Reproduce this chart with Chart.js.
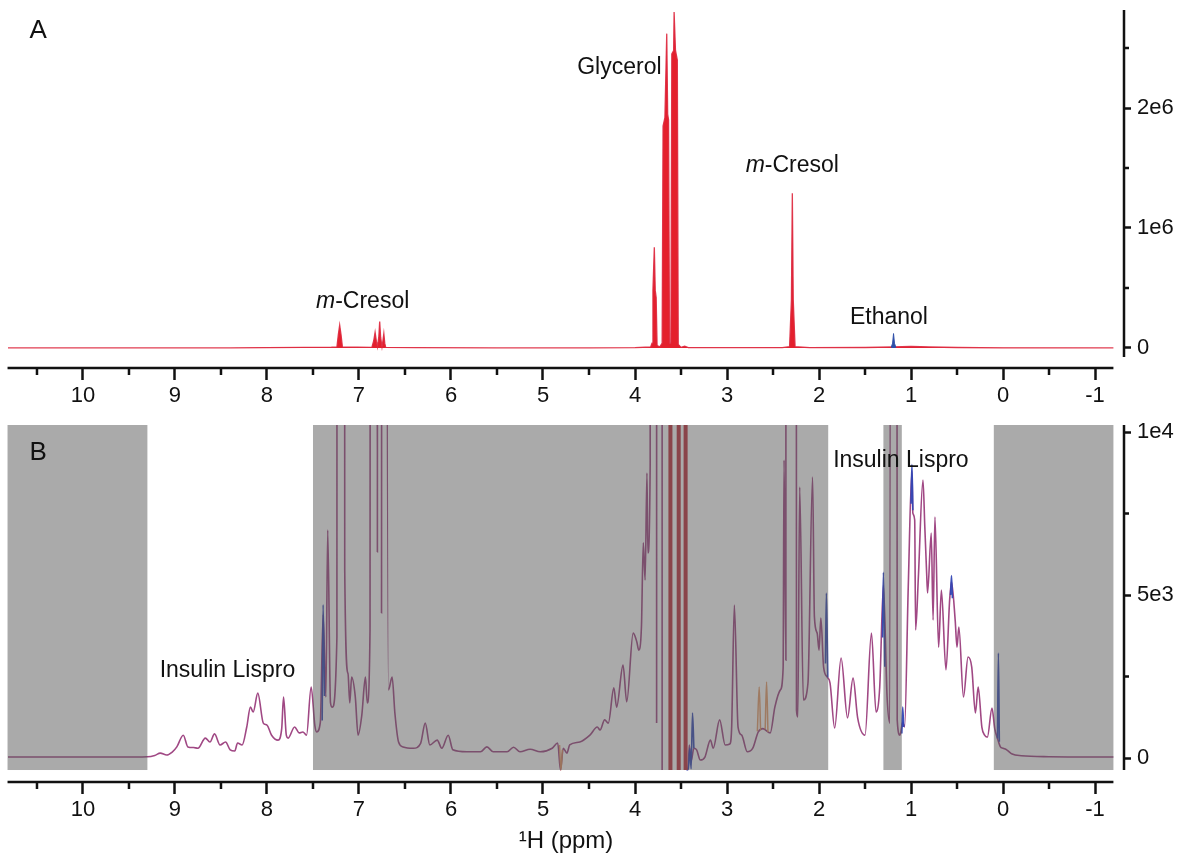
<!DOCTYPE html>
<html>
<head>
<meta charset="utf-8">
<title>1H NMR – insulin lispro</title>
<script src="https://cdn.jsdelivr.net/npm/chart.js@4.4.1/dist/chart.umd.min.js"></script>
<style>
  body { margin: 0; background: #fff; }
  #wrap { position: relative; width: 1182px; height: 861px; }
  #wrap canvas { position: absolute; left: 0; }
</style>
</head>
<body>
<div id="wrap">
  <canvas id="chartA" width="1182" height="412" style="top:0"></canvas>
  <canvas id="chartB" width="1182" height="449" style="top:412px"></canvas>
</div>
<script>
const FONT = "'Liberation Sans', Arial, Helvetica, sans-serif";

// chemical shift axis, high ppm on the left
const ppmStart = 10.82;
const ppmEnd = -1.2;
const ppmTicks = [10, 9, 8, 7, 6, 5, 4, 3, 2, 1, 0, -1];
const ppmMinorTicks = [10.5, 9.5, 8.5, 7.5, 6.5, 5.5, 4.5, 3.5, 2.5, 1.5, 0.5, -0.5];

// intensity axes
const yTicksA = [0, 1e6, 2e6];
const yTickLabelsA = ['0', '1e6', '2e6'];
const yMinorTicksA = [0.5e6, 1.5e6, 2.5e6];
const yTicksB = [0, 5e3, 1e4];
const yTickLabelsB = ['0', '5e3', '1e4'];
const yMinorTicksB = [2.5e3, 7.5e3];

// panel A: full spectrum [ppm, intensity]
const spectrumA = [
  [10.82, 0], [8.4, 0], [8.0, 3000], [7.6, 5000], [7.3, 6000], [7.24, 8000],
  [7.225, 110000], [7.21, 190000], [7.195, 110000], [7.18, 8000],
  [6.86, 5000], [6.84, 60000], [6.825, 130000], [6.81, 50000], [6.8, 10000],
  [6.785, 90000], [6.775, 220000], [6.765, 90000], [6.75, 10000],
  [6.74, 60000], [6.73, 120000], [6.72, 40000], [6.71, 5000],
  [6.4, 2000], [5.5, 0], [4.5, 0], [4.0, 2000], [3.83, 8000],
  [3.815, 40000], [3.805, 480000], [3.79, 840000], [3.78, 480000], [3.77, 420000], [3.76, 20000],
  [3.73, 10000], [3.705, 40000], [3.695, 1850000], [3.675, 1920000], [3.655, 2620000],
  [3.645, 1950000], [3.635, 1900000], [3.625, 40000],
  [3.61, 40000], [3.6, 2450000], [3.58, 2480000], [3.575, 2800000], [3.56, 2480000],
  [3.54, 2400000], [3.53, 30000],
  [3.5, 5000], [3.46, 15000], [3.42, 3000], [3.0, 2000], [2.4, 3000],
  [2.32, 10000], [2.3, 400000], [2.29, 1290000], [2.28, 400000], [2.26, 10000],
  [2.1, 3000], [1.5, 4000], [1.2, 8000], [1.0, 12000], [0.8, 8000], [0.5, 4000],
  [0.0, 1000], [-1.2, 0]
];
const ethanolA = [
  [1.215, 5000], [1.2, 40000], [1.19, 120000], [1.18, 40000], [1.165, 5000]
];

// panel B: zoomed spectrum, overlaid traces
const spectrumB = [
  [10.82, 30], [9.6, 30], [9.3, 40], [9.22, 80], [9.16, 150], [9.09, 90], [9.03, 180],
  [8.98, 340], [8.91, 700], [8.86, 340], [8.8, 320], [8.75, 300], [8.67, 610],
  [8.62, 490], [8.57, 740], [8.51, 400], [8.45, 490], [8.4, 250], [8.35, 215],
  [8.32, 460], [8.27, 400], [8.22, 950], [8.18, 1560], [8.15, 1410], [8.1, 1990],
  [8.04, 1070], [8.0, 1010], [7.95, 700], [7.88, 550], [7.84, 900], [7.82, 1870], [7.79, 700],
  [7.77, 610], [7.7, 950], [7.65, 770], [7.61, 800], [7.57, 700], [7.52, 2180],
  [7.48, 1000], [7.46, 800], [7.42, 1100], [7.39, 4390], [7.36, 1870], [7.34, 6990],
  [7.31, 1700], [7.29, 1560], [7.24, 3710], [7.225, 190000], [7.2, 60000],
  [7.17, 150000], [7.155, 5770], [7.12, 2600], [7.1, 1690], [7.08, 2480],
  [7.04, 1870], [7.01, 700], [6.97, 1300], [6.93, 2480], [6.91, 1690], [6.88, 3930],
  [6.86, 130000], [6.8, 6320], [6.79, 220000], [6.755, 4450], [6.74, 120000],
  [6.705, 30000], [6.68, 2090], [6.64, 2480], [6.61, 1380], [6.57, 490], [6.52, 340],
  [6.41, 300], [6.33, 450], [6.28, 1070], [6.23, 400], [6.15, 550], [6.1, 300],
  [6.03, 700], [5.98, 250], [5.83, 190], [5.68, 190], [5.61, 340], [5.54, 190],
  [5.39, 190], [5.32, 330], [5.25, 190], [5.14, 270], [5.03, 190], [4.9, 300],
  [4.84, 460], [4.81, -370], [4.78, 300], [4.74, 150], [4.71, 400], [4.6, 490],
  [4.49, 700], [4.41, 950], [4.38, 860], [4.33, 1170], [4.29, 1070], [4.23, 2150],
  [4.2, 1560], [4.13, 2850], [4.09, 1720], [4.02, 3830], [3.98, 3560], [3.96, 3310],
  [3.93, 4020], [3.91, 6600], [3.89, 5460], [3.87, 8740], [3.86, 6290], [3.835, 9000],
  [3.825, 800000], [3.775, 400000], [3.765, 1070], [3.755, 600000], [3.715, 2000000],
  [3.705, -370], [3.7, null],
  [3.43, -370], [3.42, -200], [3.41, 400], [3.39, -100], [3.36, 300], [3.33, 250],
  [3.29, -60], [3.24, 30], [3.18, 550], [3.15, 300], [3.08, 1170], [3.02, 400],
  [2.97, 430], [2.95, 900], [2.92, 4690], [2.88, 950], [2.84, 700], [2.78, 190],
  [2.72, 300], [2.66, 800], [2.61, 900], [2.53, 770], [2.48, 1560], [2.42, 2090],
  [2.39, 2760], [2.38, 9140], [2.36, 3000], [2.335, 1000000], [2.27, 300000],
  [2.245, 1470], [2.23, 1260], [2.21, 8310], [2.17, 1780], [2.12, 2300], [2.07, 8620],
  [2.05, 4330], [2.02, 3830], [2.0, 3310], [1.98, 4290], [1.95, 2790], [1.91, 2480],
  [1.88, 2300], [1.83, 920], [1.76, 3070], [1.69, 1230], [1.63, 2450], [1.58, 1230],
  [1.5, 700], [1.43, 3830], [1.38, 1410], [1.34, 2180], [1.3, 5300], [1.26, 1870],
  [1.23, 1070], [1.205, 100000], [1.17, 100000], [1.15, 1170], [1.12, 700], [1.09, 1100],
  [1.07, 950], [1.03, 5250], [0.99, 8800], [0.98, 7510], [0.96, 7300], [0.95, 3930],
  [0.92, 5550], [0.87, 8530], [0.85, 7090], [0.83, 5670], [0.82, 5060], [0.78, 6900],
  [0.76, 4230], [0.74, 7390], [0.7, 3400], [0.67, 5150], [0.62, 2700], [0.58, 4850],
  [0.56, 5400], [0.52, 4230], [0.5, 3400], [0.48, 4020], [0.43, 1870], [0.38, 3100],
  [0.34, 2790], [0.3, 1380], [0.27, 2180], [0.23, 950], [0.2, 700], [0.17, 640],
  [0.12, 1530], [0.09, 900], [0.06, 600], [0.03, 350], [0.0, 300], [-0.04, 250],
  [-0.1, 120], [-0.2, 70], [-0.5, 40], [-1.2, 30]
];
const blueTraceB = [
  [7.4, 1150], [7.39, 4700], [7.375, 1900], [7.37, null],
  [3.44, -370], [3.42, -330], [3.405, 300], [3.39, -330], [3.375, 1380], [3.36, 300], [3.35, null],
  [1.93, 2900], [1.92, 5060], [1.905, 2480], [1.9, null],
  [1.31, 3700], [1.3, 5700], [1.285, 2800], [1.28, null],
  [1.1, 750], [1.09, 1560], [1.08, 950], [1.075, null],
  [1.0, 7800], [0.99, 9000], [0.98, 7600], [0.975, null],
  [0.57, 5000], [0.56, 5600], [0.55, 4900], [0.545, null],
  [0.06, 600], [0.05, 3220], [0.04, 500]
];
const orangeTraceB = [
  [4.82, 400], [4.805, -370], [4.79, 250], [4.785, null],
  [2.67, 820], [2.65, 2180], [2.635, 850], [2.63, null],
  [2.585, 880], [2.57, 2330], [2.555, 800]
];
// glycerol lines that run through the whole panel
const glycerolBandsB = [
  [3.615, -370], [3.615, 40000], [3.6, null],
  [3.525, -370], [3.525, 40000], [3.5, null],
  [3.45, -370], [3.45, 40000]
];
// regions shaded out of the analysis [from ppm, to ppm]
const excludedRegions = [[10.82, 9.3], [7.5, 1.9], [1.3, 1.1], [0.1, -1.2]];

// peak annotations [text, italic prefix, ppm, intensity at text baseline, font size]
const labelsA = [
  ['A', '', 10.58, 2.583e6, 26],
  ['-Cresol', 'm', 6.96, 0.333e6, 23],
  ['Glycerol', '', 4.17, 2.283e6, 23],
  ['-Cresol', 'm', 2.29, 1.467e6, 23],
  ['Ethanol', '', 1.24, 0.2e6, 23]
];
const labelsB = [
  ['B', '', 10.58, 9141, 26],
  ['Insulin Lispro', '', 8.43, 2485, 23],
  ['Insulin Lispro', '', 1.11, 8926, 23]
];

const toXY = arr => arr.map(([x, y]) => ({ x, y }));

const decor = {
  id: 'decor',
  afterDatasetsDraw(chart, args, opts) {
    const { ctx, chartArea, scales: { x, y } } = chart;
    const yLow = y.getPixelForValue(opts.axisLow);
    ctx.save();

    (opts.regions || []).forEach(([from, to]) => {
      const x0 = x.getPixelForValue(from);
      const x1 = x.getPixelForValue(to);
      ctx.fillStyle = 'rgba(85,85,85,0.5)';
      ctx.fillRect(x0, chartArea.top, x1 - x0, yLow - chartArea.top);
    });

    // axis lines and minor ticks
    ctx.strokeStyle = '#111';
    ctx.lineWidth = 2.5;
    ctx.beginPath();
    ctx.moveTo(x.getPixelForValue(ppmStart), chartArea.bottom);
    ctx.lineTo(x.getPixelForValue(ppmEnd), chartArea.bottom);
    ctx.moveTo(chartArea.right, chartArea.top);
    ctx.lineTo(chartArea.right, yLow);
    ppmMinorTicks.forEach(v => {
      const px = x.getPixelForValue(v);
      ctx.moveTo(px, chartArea.bottom);
      ctx.lineTo(px, chartArea.bottom + 7);
    });
    opts.minorY.forEach(v => {
      const py = y.getPixelForValue(v);
      ctx.moveTo(chartArea.right, py);
      ctx.lineTo(chartArea.right + 5, py);
    });
    ctx.stroke();

    // annotations
    ctx.fillStyle = '#111';
    ctx.textBaseline = 'alphabetic';
    opts.labels.forEach(([text, prefix, ppm, val, size]) => {
      const cx = x.getPixelForValue(ppm);
      const by = y.getPixelForValue(val);
      ctx.font = `italic ${size}px ${FONT}`;
      const wp = prefix ? ctx.measureText(prefix).width : 0;
      ctx.font = `${size}px ${FONT}`;
      const wt = ctx.measureText(text).width;
      let left = cx - (wp + wt) / 2;
      if (text.length === 1) left = cx;
      if (prefix) {
        ctx.font = `italic ${size}px ${FONT}`;
        ctx.fillText(prefix, left, by);
        ctx.font = `${size}px ${FONT}`;
      }
      ctx.fillText(text, left + wp, by);
    });
    ctx.restore();
  }
};

function xAxis(height, title) {
  return {
    type: 'linear',
    position: 'bottom',
    reverse: true,
    min: -1.315,
    max: 10.815,
    afterBuildTicks: s => { s.ticks = ppmTicks.map(v => ({ value: v })); },
    afterFit: s => { s.height = height; s.paddingLeft = 0; s.paddingRight = 0; },
    grid: { display: true, drawOnChartArea: false, drawTicks: true, tickLength: 12, tickWidth: 2.5, tickColor: '#111' },
    border: { display: false },
    ticks: {
      autoSkip: false, maxRotation: 0, padding: 3, color: '#111',
      font: { family: FONT, size: 22 },
      callback: v => String(v)
    },
    title: title ? {
      display: true, text: title, color: '#111',
      font: { family: FONT, size: 24 }, padding: { top: 0, bottom: 5 }
    } : { display: false }
  };
}

function yAxis(min, max, ticks, tickLabels) {
  return {
    type: 'linear',
    position: 'right',
    min, max,
    afterBuildTicks: s => { s.ticks = ticks.map(v => ({ value: v })); },
    afterFit: s => { s.width = 58; s.paddingTop = 0; s.paddingBottom = 0; },
    grid: { display: true, drawOnChartArea: false, drawTicks: true, tickLength: 7, tickWidth: 2.5, tickColor: '#111' },
    border: { display: false },
    ticks: {
      padding: 6, color: '#111',
      font: { family: FONT, size: 22 },
      callback: (v, i) => tickLabels[i]
    }
  };
}

const lineDefaults = { pointRadius: 0, tension: 0, spanGaps: false };
const smoothLine = { ...lineDefaults, cubicInterpolationMode: 'monotone' };

new Chart(document.getElementById('chartA'), {
  type: 'line',
  data: {
    datasets: [
      { ...lineDefaults, label: 'Ethanol', data: toXY(ethanolA), borderColor: '#2f4fa8', backgroundColor: '#2f4fa8', borderWidth: 1, fill: 'origin' },
      { ...lineDefaults, label: 'Spectrum', data: toXY(spectrumA), borderColor: 'rgba(222,40,62,0.9)', backgroundColor: '#e4202c', borderWidth: 1.3, fill: 'origin' }
    ]
  },
  options: {
    responsive: false,
    animation: false,
    layout: { padding: { left: 8, top: 10, right: 0, bottom: 0 } },
    scales: {
      x: xAxis(44, null),
      y: yAxis(-0.167e6, 2.817e6, yTicksA, yTickLabelsA)
    },
    plugins: {
      legend: { display: false },
      tooltip: { enabled: false },
      decor: { axisLow: -0.075e6, minorY: yMinorTicksA, labels: labelsA, regions: [] }
    }
  },
  plugins: [decor]
});

new Chart(document.getElementById('chartB'), {
  type: 'line',
  data: {
    datasets: [
      { ...lineDefaults, label: 'Glycerol', data: toXY(glycerolBandsB), borderColor: 'rgb(190,50,62)', borderWidth: 4 },
      { ...smoothLine, label: 'Trace 3', data: toXY(orangeTraceB), borderColor: 'rgba(230,150,95,0.9)', borderWidth: 1.5 },
      { ...smoothLine, label: 'Trace 2', data: toXY(blueTraceB), borderColor: 'rgba(50,70,180,0.95)', borderWidth: 1.6 },
      { ...smoothLine, label: 'Trace 1', data: toXY(spectrumB), borderColor: 'rgb(160,72,132)', borderWidth: 1.6 }
    ]
  },
  options: {
    responsive: false,
    animation: false,
    layout: { padding: { left: 8, top: 13, right: 0, bottom: 0 } },
    scales: {
      x: xAxis(79, '\u00B9H (ppm)'),
      y: yAxis(-736, 10215, yTicksB, yTickLabelsB)
    },
    plugins: {
      legend: { display: false },
      tooltip: { enabled: false },
      decor: { axisLow: -368, minorY: yMinorTicksB, labels: labelsB, regions: excludedRegions }
    }
  },
  plugins: [decor]
});
</script>
</body>
</html>
